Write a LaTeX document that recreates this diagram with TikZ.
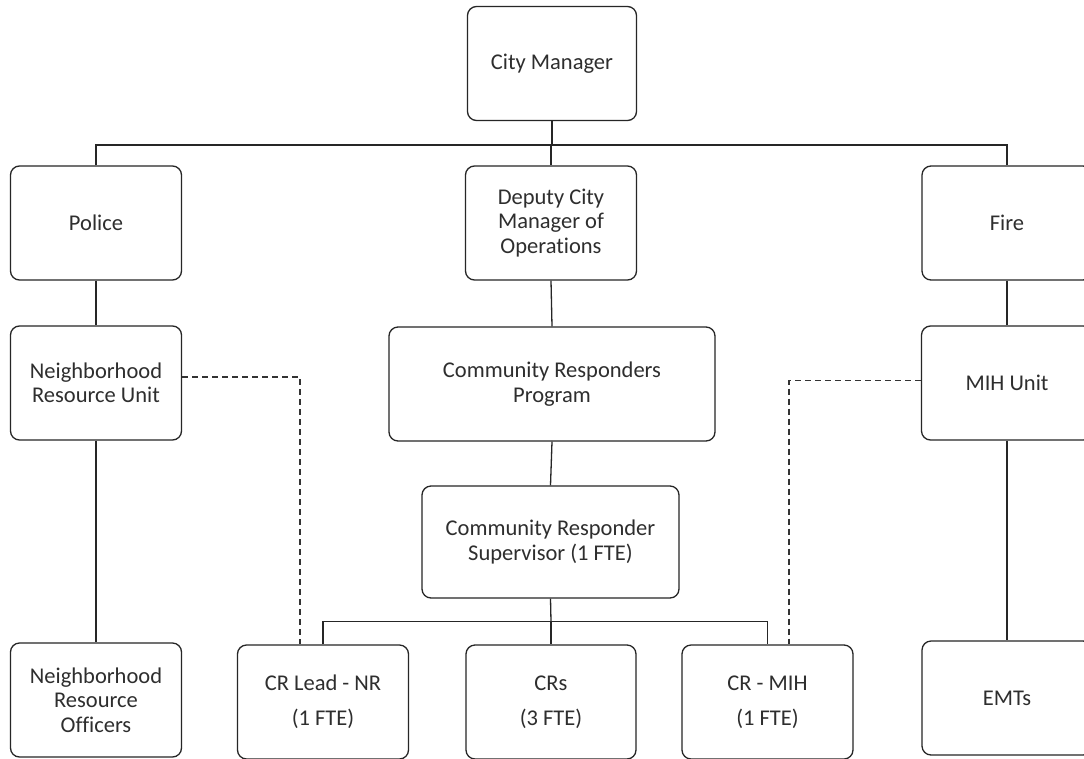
\documentclass[tikz,border=0pt]{standalone}
\usepackage{fontspec}
\setmainfont[Ligatures={NoCommon,NoRequired,NoContextual}]{Carlito}
\usetikzlibrary{calc}
\begin{document}
\begin{tikzpicture}[x=1pt,y=-1pt,
  box/.style={draw=black!85, line width=1.3pt, rounded corners=9pt, fill=white,
    inner sep=0pt, align=center, text=black!82,
    font=\fontsize{22.5}{24.5}\selectfont, minimum width=171pt, minimum height=114pt},
  wide/.style={font=\fontsize{22.5}{35}\selectfont},
  conn/.style={draw=black!85, line width=1.3pt},
  dotted link/.style={draw=black!80, line width=1.6pt, dash pattern=on 6pt off 4pt}]
\useasboundingbox (0,0) rectangle (1084,758);
\clip (0,0) rectangle (1084,758);
\fill[white] (0,0) rectangle (1084,758);

% nodes
\node[box, minimum width=169pt] (cm) at (552,63.5) {City Manager};
\node[box] (police) at (96,223) {Police};
\node[box] (deputy) at (551,223) {Deputy City\\Manager of\\Operations};
\node[box, minimum width=170pt] (fire) at (1007,223) {Fire};
\node[box] (nru) at (96,383) {Neighborhood\\Resource Unit};
\node[box, minimum width=326pt] (crp) at (552,384) {Community Responders\\Program};
\node[box, minimum width=257pt, minimum height=112pt] (sup) at (550.5,542) {Community Responder\\Supervisor (1 FTE)};
\node[box] (mih) at (1007,383) {MIH Unit};
\node[box] (nro) at (96,700) {Neighborhood\\Resource\\Officers};
\node[box, wide] (crl) at (323,702) {CR Lead - NR\\(1 FTE)};
\node[box, wide, minimum width=170pt] (crs) at (551,702) {CRs\\(3 FTE)};
\node[box, wide] (crm) at (767.5,702) {CR - MIH\\(1 FTE)};
\node[box, minimum width=170pt] (emt) at (1007,698) {EMTs};

% junctions
\coordinate (top) at (552,145);
\coordinate (bot) at (551,621.5);

% connectors
\draw[conn] (cm.south) -- (top);
\draw[conn] (police.north) |- (top) -| (fire.north);
\draw[conn] (top -| deputy.north) -- (deputy.north);
\draw[conn] (police.south) -- (nru.north);
\draw[conn] (nru.south) -- (nro.north);
\draw[conn] (deputy.south) -- (crp.north);
\draw[conn] (crp.south) -- (sup.north);
\draw[conn] (sup.south) -- (bot);
\draw[conn] (crl.north) |- (bot) -| (crm.north);
\draw[conn] (bot) -- (crs.north);
\draw[conn] (fire.south) -- (mih.north);
\draw[conn] (mih.south) -- (emt.north);

% dashed links
\draw[dotted link] ($(nru.east)+(0,-6)$) -| ($(crl.north)+(-23,0)$);
\draw[dotted link] ($(mih.west)+(0,-2.5)$) -| ($(crm.north)+(21.5,0)$);
\end{tikzpicture}
\end{document}
